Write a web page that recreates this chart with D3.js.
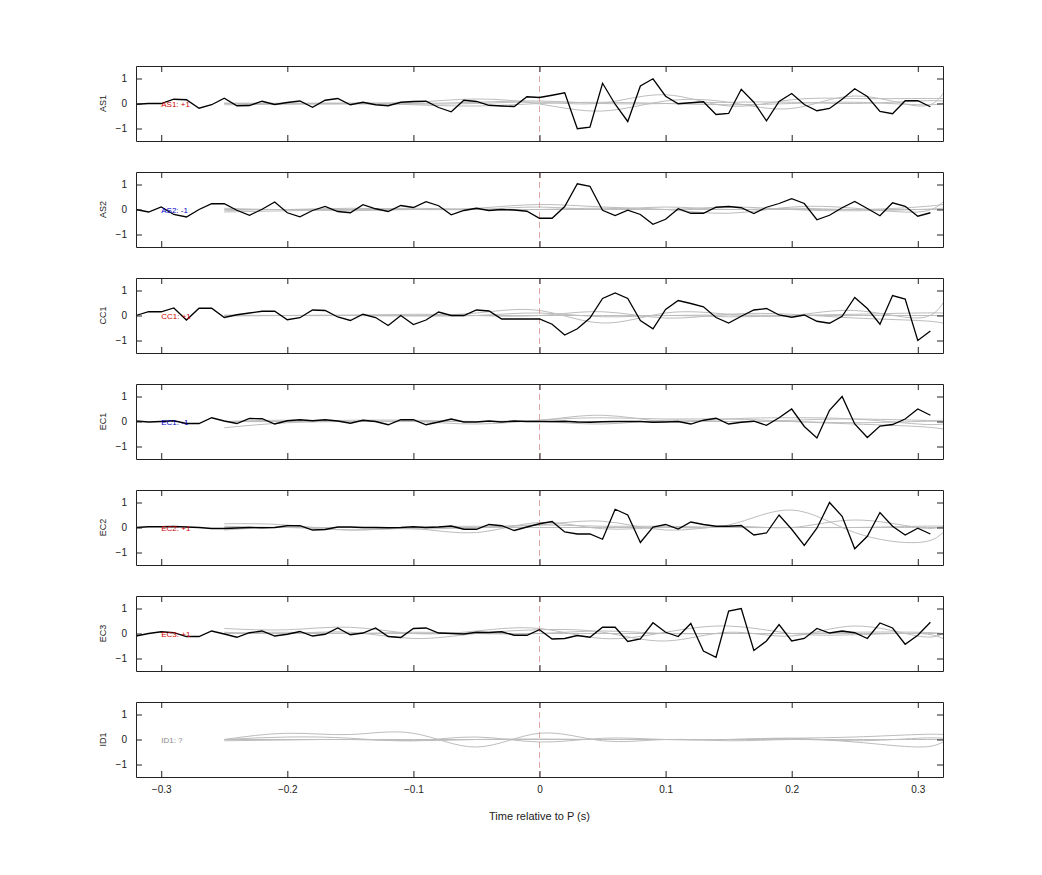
<!DOCTYPE html>
<html>
<head>
<meta charset="utf-8">
<script src="https://cdn.jsdelivr.net/npm/d3@7"></script>
<style>
  body { margin: 0; background: #fff; }
  text { font-family: "Liberation Sans", Arial, sans-serif; }
</style>
</head>
<body>
<svg id="chart" width="1042" height="875"></svg>
<script>
// station names, polarity labels and their colours
const stations = ["AS1", "AS2", "CC1", "EC1", "EC2", "EC3", "ID1"];
const polarity = ["+1", "-1", "+1", "-1", "+1", "+1", "?"];
const polColor = ["#d00000", "#0000c8", "#d00000", "#0000c8", "#d00000", "#d00000", "#888"];

// black trace times: -0.32 .. 0.31 every 0.01
const times = d3.range(64).map(i => +(-0.32 + i * 0.01).toFixed(2));

const traceAS1 = [-0.03,0,0,0.17,0.15,-0.19,-0.05,0.21,-0.09,-0.08,0.09,-0.04,0.04,0.1,-0.15,0.13,0.2,-0.05,0.05,-0.05,-0.09,0.05,0.08,0.09,-0.16,-0.33,0.13,0.08,-0.07,-0.1,-0.12,0.27,
  0.24,0.33,0.43,-1.01,-0.95,0.81,-0.03,-0.72,0.7,0.99,0.29,-0.01,0.03,0.07,-0.44,-0.4,0.57,0.05,-0.69,0.08,0.4,-0.04,-0.29,-0.2,0.17,0.59,0.28,-0.32,-0.41,0.11,0.11,-0.13];
const traceAS2 = [0,-0.1,0.1,-0.2,-0.3,0,0.23,0.23,-0.03,-0.23,0.01,0.3,-0.13,-0.29,-0.04,0.12,-0.08,-0.13,0.19,0.03,-0.08,0.16,0.08,0.31,0.15,-0.21,-0.04,0.05,-0.04,0,-0.02,-0.07,
  -0.35,-0.35,0.12,1.03,0.93,-0.03,-0.24,-0.03,-0.2,-0.59,-0.39,0.03,-0.15,-0.15,0.09,0.12,0.07,-0.16,0.09,0.24,0.43,0.24,-0.41,-0.23,0.07,0.32,0.04,-0.25,0.27,0.13,-0.27,-0.13];
const traceCC1 = [0,0.15,0.15,0.3,-0.18,0.29,0.29,-0.08,0.03,0.1,0.17,0.17,-0.17,-0.09,0.22,0.2,-0.06,-0.2,0.05,-0.08,-0.4,0,-0.36,-0.18,0.14,0,0,0.22,0.18,-0.14,-0.14,-0.14,
  -0.14,-0.35,-0.78,-0.53,-0.1,0.68,0.9,0.68,-0.2,-0.53,0.24,0.6,0.48,0.35,-0.08,-0.3,-0.03,0.22,0.28,0.02,-0.07,0.02,-0.23,-0.31,-0.03,0.72,0.28,-0.35,0.8,0.66,-1.0,-0.62];
const traceEC1 = [0.02,-0.02,0,0.03,-0.08,-0.08,0.15,0.02,-0.08,0.12,0.11,-0.1,0.03,0.07,0.03,0.07,0.02,-0.07,0.05,0,-0.13,0.07,0.07,-0.13,-0.02,0.1,-0.02,-0.02,0.02,-0.02,0.02,0,
  0,0,0.01,-0.02,-0.03,-0.01,0,0,0,-0.03,-0.02,0,-0.1,0.05,0.13,-0.1,-0.03,0.01,-0.15,0.15,0.5,-0.2,-0.66,0.45,1.0,-0.1,-0.64,-0.18,-0.12,0.1,0.5,0.25];
const traceEC2 = [0,0.03,0.03,0.04,0.02,0,-0.04,-0.04,-0.02,0,-0.01,0,0.07,0.07,-0.1,-0.08,0.02,0.02,0,0,-0.01,0,0.03,0,0.02,0.06,-0.07,-0.07,0.12,0.07,-0.12,0.02,
  0.15,0.24,-0.18,-0.26,-0.26,-0.47,0.73,0.5,-0.6,0.02,0.12,-0.06,0.22,0.12,0.05,0.05,0.08,-0.3,-0.22,0.5,-0.07,-0.72,-0.03,1.0,0.45,-0.85,-0.35,0.6,0.05,-0.3,-0.03,-0.26];
const traceEC3 = [-0.1,0,0.07,0.03,-0.12,-0.12,0.1,-0.02,-0.15,0.03,0.1,-0.1,-0.03,0.08,-0.1,-0.03,0.22,-0.05,0.02,0.22,-0.12,-0.16,0.2,0.22,0.02,0,-0.02,0.05,0.04,0.07,-0.07,-0.07,
  0.15,-0.22,-0.2,-0.08,-0.15,0.25,0.25,-0.32,-0.22,0.43,0.05,-0.12,0.4,-0.7,-0.95,0.9,1.0,-0.68,-0.3,0.36,-0.3,-0.2,0.2,0.02,0.1,0.03,-0.2,0.42,0.22,-0.43,-0.07,0.45];
const traces = [traceAS1, traceAS2, traceCC1, traceEC1, traceEC2, traceEC3, null];

// grey synthetic traces: times -0.25 .. 0.32 at coarse steps, smoothed
const greyTimes = [-0.25,-0.2,-0.15,-0.1,-0.05,0,0.05,0.1,0.15,0.2,0.25,0.3,0.32];
const greyAS1 = [
  [0,0,0.02,0.05,0.18,-0.02,-0.3,0.1,0.05,-0.2,0.3,-0.1,0.4],
  [0,0.01,0,-0.02,0,0.05,0.02,0.35,-0.1,0.15,0.2,0.2,0.2],
  [-0.05,-0.03,-0.02,0,0.05,0.1,0,0,0.05,0.05,0,0.1,0.1],
  [0.02,0,0,-0.05,-0.1,0,0.05,0,-0.05,0,0.05,-0.05,0]];
const greyAS2 = [
  [0.05,0,0.05,0,0.05,0.2,0.1,0,-0.15,0.1,0.05,-0.1,0.3],
  [-0.05,0,-0.05,0,0,0.1,0,0.1,0,0.05,0,0.1,0.2],
  [-0.1,-0.05,0,0.05,0,0,0.05,0,0.1,0,-0.05,0,0.05],
  [0,0,0,0,0,0,0,0,0,0,0,0,0]];
const greyCC1 = [
  [0,0,0,0,0.1,0.2,-0.3,0.1,0.05,0,0.2,-0.1,0.5],
  [0,0,0,0.05,0,0,0.15,-0.1,0.05,0.05,-0.1,-0.2,-0.3],
  [0.02,0,0.02,0,0,0.1,-0.05,0,-0.05,0,0.05,0.1,0.1],
  [-0.02,0,0,-0.02,0,0,0,0,0.02,0,0,0,0]];
const greyEC1 = [
  [-0.25,-0.05,0,0,-0.1,0.05,0.15,0.1,0.1,0,-0.1,-0.2,-0.3],
  [0,0,0.05,0.05,0,0.05,0.25,0,0.1,0.15,0.1,-0.1,-0.1],
  [0,0.05,0,0,0,0,-0.1,0.05,0,0.05,0.1,0.05,0.05],
  [0,0,0,0,0,0,0,0,0,0,-0.05,0,0]];
const greyEC2 = [
  [0.15,0.1,-0.1,-0.05,-0.2,0.2,-0.05,0,0.1,0.7,-0.2,-0.6,-0.2],
  [-0.1,0,-0.1,0,0.05,0.1,0.25,-0.1,0.05,0,0.3,0,0.05],
  [0.05,0,0,-0.05,0,0.1,0.05,0.05,0,0,0,0.05,0.05],
  [0,0,0,0,0,0,0,0,0,0,0,0,0]];
const greyEC3 = [
  [0.2,0.15,0.25,0,0.1,0.2,-0.2,0.05,0.3,0,-0.05,0,-0.2],
  [0.05,0,0.05,-0.2,0,0.15,0.05,-0.3,0.05,-0.1,0.3,-0.1,0],
  [0,0.05,0,0.05,0,0,0.1,0,0,0,0.05,0.05,0],
  [0,0,0,0,0,0,0,0,0,0,0,0,0]];
const greyID1 = [
  [0,0.25,0.2,0.25,-0.3,0.25,-0.05,0,-0.05,0,-0.1,-0.3,-0.1],
  [0,0.1,0.05,-0.05,0.1,-0.1,0.05,0,0,0.05,0.1,0.2,0.2],
  [-0.05,-0.02,0,-0.05,0,0.02,0,0,0,0.05,-0.05,0.05,0.05],
  [0,0,0,0,0,0,0,0,0,0,0,0,0]];
const greys = [greyAS1, greyAS2, greyCC1, greyEC1, greyEC2, greyEC3, greyID1];

const xTicks = [-0.3, -0.2, -0.1, 0, 0.1, 0.2, 0.3];
const yTicks = [-1, 0, 1];

const left = 136, right = 943, top0 = 66, step = 106, ph = 75;
const svg = d3.select("#chart");
const x = d3.scaleLinear().domain([-0.32, 0.32]).range([left, right]);

stations.forEach((name, i) => {
  const top = top0 + i * step;
  const y = d3.scaleLinear().domain([-1.5, 1.5]).range([top + ph, top]);
  const g = svg.append("g");

  const line = d3.line().x((d, k) => x(greyTimes[k])).y(d => y(d)).curve(d3.curveNatural);
  greys[i].forEach(s => {
    g.append("path").attr("d", line(s)).attr("fill", "none")
      .attr("stroke", "#bdbdbd").attr("stroke-width", 1);
  });

  g.append("line").attr("x1", x(0)).attr("x2", x(0)).attr("y1", top).attr("y2", top + ph)
    .attr("stroke", "#d98a8a").attr("stroke-width", 0.8).attr("stroke-dasharray", "6,4");

  if (traces[i]) {
    const bl = d3.line().x((d, k) => x(times[k])).y(d => y(d));
    g.append("path").attr("d", bl(traces[i])).attr("fill", "none")
      .attr("stroke", "#000").attr("stroke-width", 1.3);
  }

  g.append("text").attr("x", x(-0.3)).attr("y", y(0) + 3).attr("font-size", 8)
    .attr("fill", polColor[i]).text(name + ": " + polarity[i]);

  // axes with inward ticks on all four sides
  const last = i === stations.length - 1;
  g.append("g").attr("transform", `translate(0,${top + ph})`)
    .call(d3.axisBottom(x).tickValues(xTicks).tickSizeInner(-6).tickSizeOuter(0)
      .tickFormat(last ? d3.format("") : () => "").tickPadding(9));
  g.append("g").attr("transform", `translate(0,${top})`)
    .call(d3.axisTop(x).tickValues(xTicks).tickSizeInner(-6).tickSizeOuter(0).tickFormat(() => ""));
  g.append("g").attr("transform", `translate(${left},0)`)
    .call(d3.axisLeft(y).tickValues(yTicks).tickSizeInner(-6).tickSizeOuter(0).tickPadding(9).tickFormat(d3.format("")));
  g.append("g").attr("transform", `translate(${right},0)`)
    .call(d3.axisRight(y).tickValues(yTicks).tickSizeInner(-6).tickSizeOuter(0).tickFormat(() => ""));
  g.selectAll(".domain").attr("stroke", "#222");
  g.selectAll(".tick line").attr("stroke", "#222");
  g.selectAll(".tick text").attr("font-size", 10).attr("fill", "#222")
    .attr("font-family", "Liberation Sans, Arial, sans-serif");

  g.append("text").attr("transform", `translate(106,${top + ph / 2}) rotate(-90)`)
    .attr("text-anchor", "middle").attr("font-size", 9).attr("fill", "#222").text(name);
});

svg.append("text").attr("x", (left + right) / 2).attr("y", 820).attr("text-anchor", "middle")
  .attr("font-size", 11).attr("fill", "#222").text("Time relative to P (s)");
</script>
</body>
</html>
